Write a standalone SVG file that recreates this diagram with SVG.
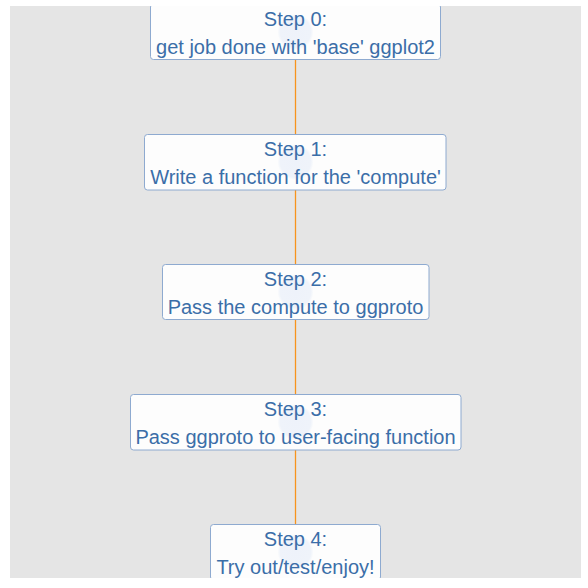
<svg xmlns="http://www.w3.org/2000/svg" width="588" height="588" viewBox="0 0 588 588">
  <defs>
    <clipPath id="panel"><rect x="10" y="6" width="571" height="572"/></clipPath>
    <radialGradient id="glow">
      <stop offset="0" stop-color="#eef2fa"/>
      <stop offset="0.85" stop-color="#eff3fa"/>
      <stop offset="1" stop-color="#fdfdfd"/>
    </radialGradient>
  </defs>
  <style>
    .box { fill: #fdfdfd; stroke: #8eaad0; stroke-width: 1; }
    .dot { fill: url(#glow); }
    .lbl { font-family: "Liberation Sans", Arial, sans-serif; font-size: 20px; fill: #3b6ea8; text-anchor: middle; }
    .edge { stroke: #f7941d; stroke-width: 1.3; fill: none; }
  </style>
  <rect x="0" y="0" width="588" height="588" fill="#ffffff"/>
  <rect x="10" y="6" width="571" height="572" fill="#e5e5e5"/>
  <g clip-path="url(#panel)">
    <g id="connectors">
      <line class="edge" x1="295.5" y1="59.5" x2="295.5" y2="134.5"/>
      <line class="edge" x1="295.5" y1="190" x2="295.5" y2="264.5"/>
      <line class="edge" x1="295.5" y1="319.5" x2="295.5" y2="394.5"/>
      <line class="edge" x1="295.5" y1="450" x2="295.5" y2="524.5"/>
    </g>
    <g id="step0">
      <rect class="box" x="150.5" y="4" width="290" height="55.5" rx="3"/>
      <circle class="dot" cx="295.5" cy="32" r="18"/>
      <text class="lbl" x="295.5" y="26">Step 0:</text>
      <text class="lbl" x="295.5" y="53.5">get job done with 'base' ggplot2</text>
    </g>
    <g id="step1">
      <rect class="box" x="144.5" y="134.5" width="301.5" height="55.5" rx="3"/>
      <circle class="dot" cx="295.5" cy="162" r="18"/>
      <text class="lbl" x="295.5" y="156">Step 1:</text>
      <text class="lbl" x="295.5" y="183.5">Write a function for the 'compute'</text>
    </g>
    <g id="step2">
      <rect class="box" x="162.5" y="264.5" width="266.5" height="55" rx="3"/>
      <circle class="dot" cx="295.5" cy="292" r="18"/>
      <text class="lbl" x="295.5" y="286">Step 2:</text>
      <text class="lbl" x="295.5" y="313.5">Pass the compute to ggproto</text>
    </g>
    <g id="step3">
      <rect class="box" x="130.5" y="394.5" width="330.5" height="55.5" rx="3"/>
      <circle class="dot" cx="295.5" cy="422" r="18"/>
      <text class="lbl" x="295.5" y="416">Step 3:</text>
      <text class="lbl" x="295.5" y="443.5">Pass ggproto to user-facing function</text>
    </g>
    <g id="step4">
      <rect class="box" x="210.5" y="524.5" width="170" height="55.5" rx="3"/>
      <circle class="dot" cx="295.5" cy="552" r="18"/>
      <text class="lbl" x="295.5" y="546">Step 4:</text>
      <text class="lbl" x="295.5" y="573.5">Try out/test/enjoy!</text>
    </g>
  </g>
</svg>
